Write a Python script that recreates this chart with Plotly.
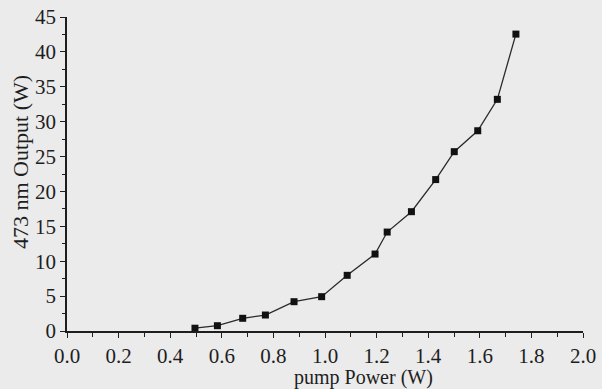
import plotly.graph_objects as go

# Data
pump_power = [0.496, 0.583, 0.681, 0.769, 0.880, 0.987, 1.086, 1.194, 1.241,
              1.335, 1.429, 1.501, 1.592, 1.668, 1.740]
output_473 = [0.4, 0.76, 1.82, 2.29, 4.2, 4.92, 7.98, 11.03, 14.18,
              17.1, 21.7, 25.7, 28.7, 33.2, 42.55]

x_ticks = [0.0, 0.2, 0.4, 0.6, 0.8, 1.0, 1.2, 1.4, 1.6, 1.8, 2.0]
x_tick_text = ["0.0", "0.2", "0.4", "0.6", "0.8", "1.0", "1.2", "1.4", "1.6", "1.8", "2.0"]
y_ticks = [0, 5, 10, 15, 20, 25, 30, 35, 40, 45]

x_title = "pump Power (W)"
y_title = "473 nm Output (W)"

BG = "#ebebeb"
INK = "#1e1e1e"
FONT = "Liberation Serif"

fig = go.Figure()
fig.add_trace(go.Scatter(
    x=pump_power, y=output_473, mode="lines+markers",
    line=dict(color="#2a2a2a", width=1.3),
    marker=dict(symbol="square", size=7, color="#111111",
                line=dict(color="#111111", width=0)),
    cliponaxis=False, showlegend=False,
))

fig.update_layout(
    width=602, height=389,
    margin=dict(l=67, r=19, t=17, b=58, autoexpand=False),
    paper_bgcolor=BG, plot_bgcolor=BG,
    font=dict(family=FONT, size=21, color=INK),
    xaxis=dict(
        range=[0, 2.0], tickvals=x_ticks, ticktext=x_tick_text,
        automargin=False,
        showgrid=False, zeroline=False, showline=True,
        linecolor=INK, linewidth=1.5, ticks="outside", ticklen=5,
        tickwidth=1.3, tickcolor=INK,
        minor=dict(dtick=0.1, ticks="outside", ticklen=4, tickwidth=1.3,
                   tickcolor=INK, showgrid=False),
        tickfont=dict(family=FONT, size=21, color=INK),
    ),
    yaxis=dict(
        range=[0, 45], tickvals=y_ticks,
        automargin=False,
        showgrid=False, zeroline=False, showline=True,
        linecolor=INK, linewidth=1.5, ticks="outside", ticklen=5,
        tickwidth=1.3, tickcolor=INK,
        minor=dict(dtick=2.5, ticks="outside", ticklen=3, tickwidth=1.3,
                   tickcolor=INK, showgrid=False),
        tickfont=dict(family=FONT, size=21, color=INK),
    ),
    annotations=[
        dict(text=x_title, xref="paper", yref="paper", x=(363 - 67) / 516,
             y=-(377 - 331) / 314, xanchor="center", yanchor="middle",
             showarrow=False, font=dict(family=FONT, size=20, color=INK)),
        dict(text=y_title, xref="paper", yref="paper", x=-(67 - 20) / 516,
             y=(331 - 162) / 314, xanchor="center", yanchor="middle",
             textangle=-90, showarrow=False,
             font=dict(family=FONT, size=22, color=INK)),
    ],
)

fig.write_html(
    "out.html",
    config={"displayModeBar": False},
    post_script=(
        "document.body.style.margin='0';"
        "document.body.style.padding='0';"
        "document.body.style.overflow='hidden';"
        "document.body.style.background='" + BG + "';"
    ),
)
